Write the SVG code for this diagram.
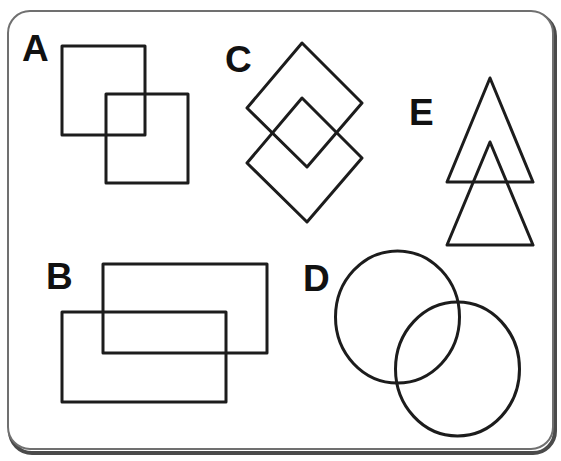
<svg xmlns="http://www.w3.org/2000/svg" width="561" height="461" viewBox="0 0 561 461">
<style>
.s{fill:none;stroke:#1c1c1c;stroke-width:3;stroke-linejoin:round}
.l{font-family:"Liberation Sans",Arial,sans-serif;font-weight:bold;font-size:37px;fill:#111}
</style>
<rect width="561" height="461" fill="#fff"/>
<g id="frame">
<rect x="10" y="14" width="545" height="439" rx="22" fill="none" stroke="#4a4a4a" stroke-width="4"/>
<rect x="8" y="11" width="545" height="438" rx="22" fill="#fff" stroke="#707070" stroke-width="2"/>
</g>
<g id="A">
<text class="l" x="22" y="61">A</text>
<rect class="s" x="62" y="46" width="83" height="89"/>
<rect class="s" x="106" y="94" width="82" height="89"/>
</g>
<g id="C">
<text class="l" x="225" y="72">C</text>
<polygon class="s" points="302,43 362,103 307,167 247,108"/>
<polygon class="s" points="302,98 362,158 307,222 247,163"/>
</g>
<g id="E">
<text class="l" x="409" y="125">E</text>
<polygon class="s" points="490,78 533,182 447,182"/>
<polygon class="s" points="490,142 533,245 447,245"/>
</g>
<g id="B">
<text class="l" x="46" y="289">B</text>
<rect class="s" x="103" y="264" width="164" height="89"/>
<rect class="s" x="62" y="312" width="164" height="90"/>
</g>
<g id="D">
<text class="l" x="303" y="291">D</text>
<ellipse class="s" cx="397.5" cy="317" rx="62" ry="66"/>
<ellipse class="s" cx="457.5" cy="369" rx="62" ry="67"/>
</g>
<g id="connectors"/>
</svg>
